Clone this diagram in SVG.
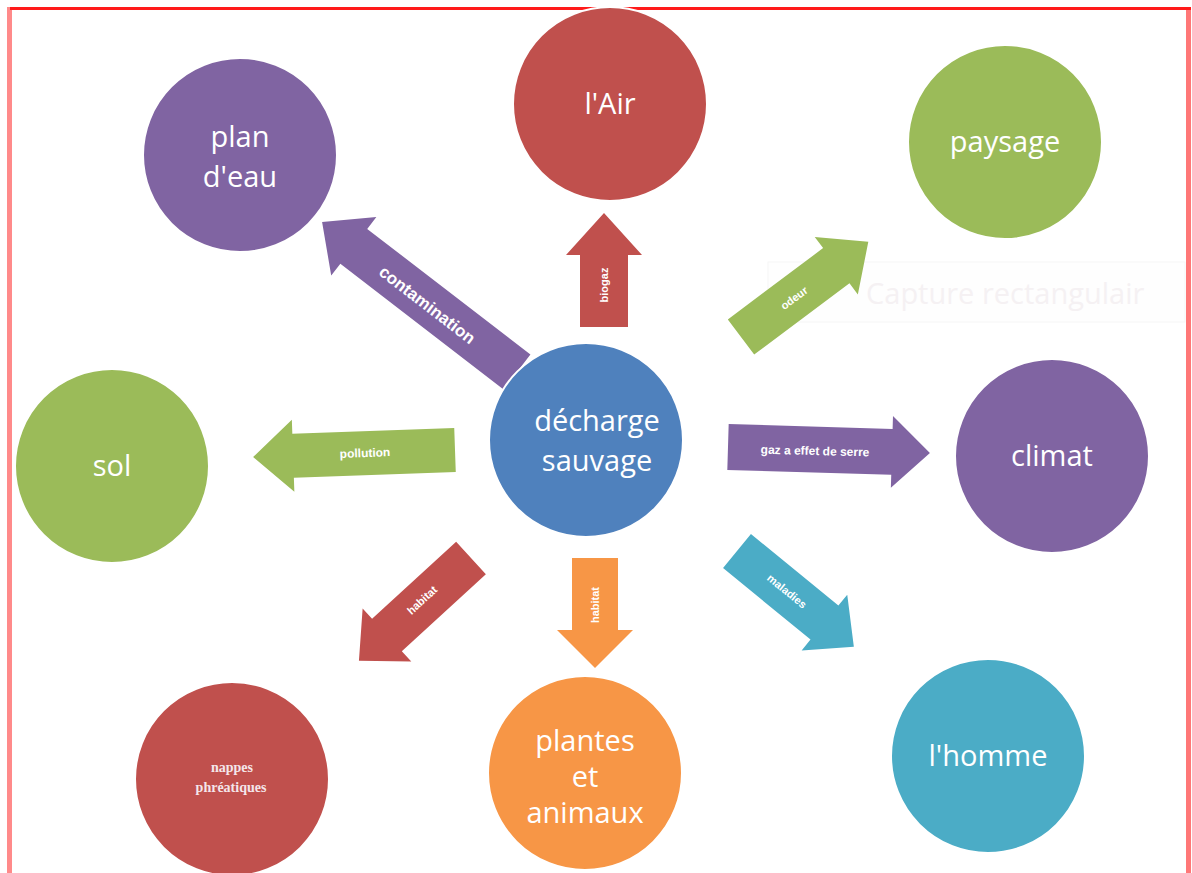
<svg xmlns="http://www.w3.org/2000/svg" width="1192" height="873" viewBox="0 0 1192 873">
  <style>
    .node { stroke: #ffffff; stroke-width: 2; }
    .label { font-family: "Open Sans", "Noto Sans", sans-serif; font-size: 29px; fill: #ffffff; text-anchor: middle; }
    .small { font-family: "Liberation Serif", serif; font-weight: bold; font-size: 14px; fill: #f4e6ea; text-anchor: middle; }
    .tag { font-family: "Liberation Sans", "DejaVu Sans", sans-serif; font-weight: bold; font-size: 11px; fill: #ffffff; text-anchor: middle; dominant-baseline: central; }
    .purple { fill: #8064A2; }
    .red { fill: #C0504D; }
    .green { fill: #9BBB59; }
    .blue { fill: #4F81BD; }
    .orange { fill: #F79646; }
    .teal { fill: #4BACC6; }
  </style>

  <!-- frame -->
  <rect x="0" y="0" width="1192" height="873" fill="#ffffff"/>
  <rect x="7" y="7" width="5" height="866" fill="#ff8a8a"/>
  <rect x="1186" y="7" width="5" height="866" fill="#ff7777"/>
  <rect x="10" y="7" width="1181" height="3" fill="#ff1a1a"/>

  <!-- faint overlay box -->
  <g id="overlay">
    <rect x="768" y="262" width="417" height="60" fill="#fefefe" stroke="#f6f6f6" stroke-width="1"/>
    <text x="866" y="304" font-family="'Open Sans', sans-serif" font-size="29" fill="#f5f1f3">Capture rectangulair</text>
  </g>

  <!-- connectors -->
  <g id="connectors">
    <g id="arrow-contamination" transform="translate(517,372) rotate(-142.4)">
      <polygon class="purple" points="0,-22 206,-22 206,-37 246,0 206,37 206,22 0,22"/>
    </g>
    <text class="tag" style="font-size:17px" transform="translate(427,305) rotate(37.6)">contamination</text>

    <g id="arrow-biogaz" transform="translate(604,327) rotate(-90)">
      <polygon class="red" points="0,-24 72,-24 72,-38 114,0 72,38 72,24 0,24"/>
    </g>
    <text class="tag" transform="translate(604,285) rotate(-90)">biogaz</text>

    <g id="arrow-odeur" transform="translate(741,337) rotate(-36.8)">
      <polygon class="green" points="0,-22 119,-22 119,-36 159,0 119,36 119,22 0,22"/>
    </g>
    <text class="tag" transform="translate(794,298) rotate(-36.8)">odeur</text>

    <g id="arrow-pollution" transform="translate(455,450) rotate(178)">
      <polygon class="green" points="0,-22 162,-22 162,-36 202,0 162,36 162,22 0,22"/>
    </g>
    <text class="tag" style="font-size:12px" transform="translate(365,453) rotate(-2)">pollution</text>

    <g id="arrow-serre" transform="translate(728,447) rotate(1.7)">
      <polygon class="purple" points="0,-23 164,-23 164,-36 202,0 164,36 164,23 0,23"/>
    </g>
    <text class="tag" style="font-size:12px" transform="translate(815,451) rotate(1.5)">gaz a effet de serre</text>

    <g id="arrow-habitat-1" transform="translate(471,558) rotate(137.5)">
      <polygon class="red" points="0,-22 114,-22 114,-36 152,0 114,36 114,22 0,22"/>
    </g>
    <text class="tag" transform="translate(422,600) rotate(-42.5)">habitat</text>

    <g id="arrow-habitat-2" transform="translate(595,558) rotate(90)">
      <polygon class="orange" points="0,-23 72,-23 72,-38 110,0 72,38 72,23 0,23"/>
    </g>
    <text class="tag" transform="translate(595,605) rotate(-90)">habitat</text>

    <g id="arrow-maladies" transform="translate(737,551) rotate(39.3)">
      <polygon class="teal" points="0,-22 113,-22 113,-36 151,0 113,36 113,22 0,22"/>
    </g>
    <text class="tag" transform="translate(787,591) rotate(39.3)">maladies</text>
  </g>

  <!-- nodes -->
  <g id="node-air">
    <circle class="node red" cx="610" cy="104" r="97"/>
    <text class="label" x="610" y="114">l'Air</text>
  </g>
  <g id="node-plan-eau">
    <circle class="node purple" cx="240" cy="155" r="97"/>
    <text class="label" x="240" y="147">plan</text>
    <text class="label" x="240" y="187">d'eau</text>
  </g>
  <g id="node-paysage">
    <circle class="node green" cx="1005" cy="142" r="97"/>
    <text class="label" x="1005" y="152">paysage</text>
  </g>
  <g id="node-sol">
    <circle class="node green" cx="112" cy="466" r="97"/>
    <text class="label" x="112" y="476">sol</text>
  </g>
  <g id="node-decharge">
    <circle class="node blue" cx="586" cy="440" r="97"/>
    <text class="label" x="597" y="431">décharge</text>
    <text class="label" x="597" y="471">sauvage</text>
  </g>
  <g id="node-climat">
    <circle class="node purple" cx="1052" cy="456" r="97"/>
    <text class="label" x="1052" y="466">climat</text>
  </g>
  <g id="node-nappes">
    <circle class="node red" cx="232" cy="779" r="97"/>
    <text class="small" x="232" y="772">nappes</text>
    <text class="small" x="231" y="792">phréatiques</text>
  </g>
  <g id="node-plantes">
    <circle class="node orange" cx="585" cy="773" r="97"/>
    <text class="label" x="585" y="751">plantes</text>
    <text class="label" x="585" y="787">et</text>
    <text class="label" x="585" y="823">animaux</text>
  </g>
  <g id="node-homme">
    <circle class="node teal" cx="988" cy="756" r="97"/>
    <text class="label" x="988" y="766">l'homme</text>
  </g>
</svg>
